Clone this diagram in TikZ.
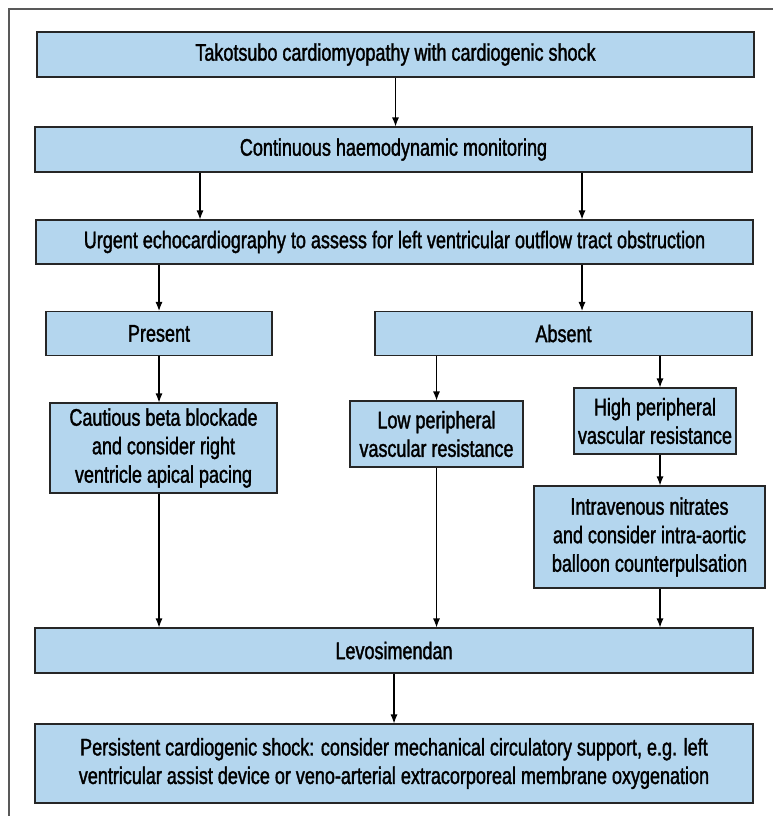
\documentclass[tikz,border=0pt]{standalone}
\usepackage{fontspec}
\setmainfont{Liberation Sans}[FakeStretch=0.75,FakeBold=1.5]
\usetikzlibrary{arrows.meta}
\definecolor{boxblue}{RGB}{180,214,238}

\begin{document}
\begin{tikzpicture}[x=1pt,y=-1pt,
  box/.style={draw=black!85,line width=1.1pt,fill=boxblue,align=center,inner sep=0pt,
    font=\fontsize{24}{28.5}\selectfont},
  arr/.style={-{Latex[length=9pt,width=7pt]},line width=1.1pt}]
\useasboundingbox (0,0) rectangle (773,816);
\draw[line width=1.5pt,black!65] (773,9)--(9,9)--(9,816);

 \node[box,minimum width=717pt,minimum height=45pt] (shock) at (395.5,54.5) {Takotsubo cardiomyopathy with cardiogenic shock};
 \node[box,minimum width=717pt,minimum height=45pt] (monitor) at (393.5,149.5) {Continuous haemodynamic monitoring};
 \node[box,minimum width=717pt,minimum height=44pt] (echo) at (394.5,242) {Urgent echocardiography to assess for left ventricular outflow tract obstruction};
 \node[box,minimum width=226pt,minimum height=44pt] (present) at (159,333.5) {Present};
 \node[box,minimum width=377pt,minimum height=44pt] (absent) at (563.5,333.5) {Absent};
 \node[box,minimum width=227pt,minimum height=90pt] (beta) at (163.5,448) {Cautious beta blockade\\and consider right\\ventricle apical pacing};
 \node[box,minimum width=173pt,minimum height=66pt] (low) at (436.5,434) {Low peripheral\\vascular resistance};
 \node[box,minimum width=162pt,minimum height=66pt] (high) at (655,421) {High peripheral\\vascular resistance};
 \node[box,minimum width=231pt,minimum height=102pt] (nitrates) at (649.5,537) {Intravenous nitrates\\and consider intra-aortic\\balloon counterpulsation};
 \node[box,minimum width=718pt,minimum height=45pt] (levo) at (394,650.5) {Levosimendan};
 \node[box,minimum width=718pt,minimum height=79pt] (support) at (394,763.5) {Persistent cardiogenic shock: consider mechanical circulatory support, e.g. left\\ventricular assist device or veno-arterial extracorporeal membrane oxygenation};

 \coordinate (leftcol) at (200,0);
 \coordinate (midcol) at (582,0);
 \coordinate (rightcol) at (660,0);

 \draw[arr] (shock.south) -- (shock.south |- monitor.north);
 \draw[arr] (monitor.south -| leftcol) -- (echo.north -| leftcol);
 \draw[arr] (monitor.south -| midcol) -- (echo.north -| midcol);
 \draw[arr] (echo.south -| present) -- (present.north);
 \draw[arr] (echo.south -| midcol) -- (absent.north -| midcol);
 \draw[arr] (present.south) -- (present.south |- beta.north);
 \draw[arr] (absent.south -| low) -- (low.north);
 \draw[arr] (absent.south -| rightcol) -- (high.north -| rightcol);
 \draw[arr] (high.south -| rightcol) -- (nitrates.north -| rightcol);
 \draw[arr] (beta.south -| present) -- (levo.north -| present);
 \draw[arr] (low.south) -- (low.south |- levo.north);
 \draw[arr] (nitrates.south -| rightcol) -- (levo.north -| rightcol);
 \draw[arr] (levo.south) -- (levo.south |- support.north);
\end{tikzpicture}
\end{document}
